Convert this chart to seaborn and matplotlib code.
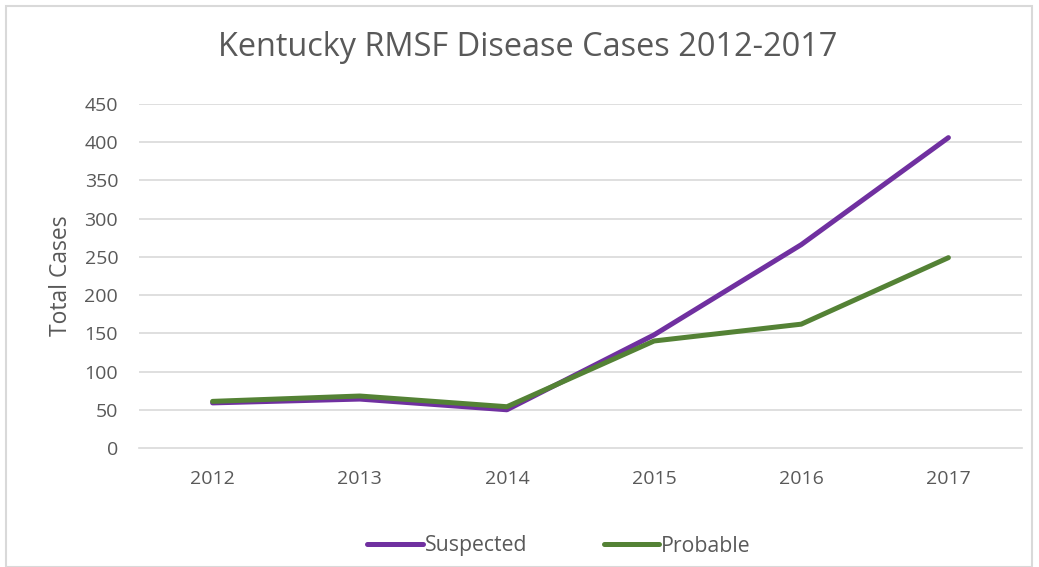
import matplotlib
matplotlib.use("Agg")
import matplotlib.pyplot as plt
import seaborn as sns
import pandas as pd
from matplotlib.lines import Line2D

years = ["2012", "2013", "2014", "2015", "2016", "2017"]
suspected = [59, 64, 50, 148, 266, 406]
probable = [61, 68, 54, 140, 162, 249]
series_names = ["Suspected", "Probable"]
colors = {"Suspected": "#7030A0", "Probable": "#548235"}

df = pd.DataFrame({
    "pos": list(range(len(years))) * 2,
    "value": suspected + probable,
    "series": [series_names[0]] * len(years) + [series_names[1]] * len(years),
})

sns.set_theme(style="white")
plt.rcParams['font.family'] = ['Open Sans', 'DejaVu Sans']
txt = "#595959"
grid = "#D9D9D9"

fig = plt.figure(figsize=(10.39, 5.67), dpi=100)
ax = fig.add_axes([139/1039, 1 - 448/567, (1022-139)/1039, (448-104)/567])

sns.lineplot(data=df, x="pos", y="value", hue="series", palette=colors,
             linewidth=3.6, ax=ax, legend=False, solid_capstyle="round")

ax.set_xlim(-0.5, len(years) - 0.5)
ax.set_ylim(0, 450)
ax.set_yticks(range(0, 451, 50))
ax.set_xticks(range(len(years)))
ax.set_xticklabels(years)
ax.tick_params(axis="both", colors=txt, labelsize=14, length=0)
ax.tick_params(axis="y", pad=15)
ax.tick_params(axis="x", pad=16)
for y in range(50, 451, 50):
    ax.axhline(y, color=grid, linewidth=1.2, zorder=0)
for s in ["top", "right", "left"]:
    ax.spines[s].set_visible(False)
ax.spines["bottom"].set_color(grid)
ax.spines["bottom"].set_linewidth(1.2)
ax.set_xlabel("")
ax.set_ylabel("Total Cases", color=txt, fontsize=16.5, labelpad=8)

fig.text(0.508, 1 - 48/567, "Kentucky RMSF Disease Cases 2012-2017", ha="center",
         va="center", fontsize=23.4, color=txt)

handles = [Line2D([0], [0], color=colors[n], linewidth=3.6, solid_capstyle="round") for n in series_names]
leg = fig.legend(handles, series_names, loc="center", bbox_to_anchor=(0.538, 1 - 546/567),
                 ncol=2, frameon=False, fontsize=15.3, handlelength=2.6, handletextpad=0.1,
                 columnspacing=3.6)
for t in leg.get_texts():
    t.set_color(txt)

border = plt.Rectangle((6/1039, 0), (1032-6)/1039, 1 - 6/567, transform=fig.transFigure,
                       fill=False, edgecolor=grid, linewidth=1.5)
fig.patches.append(border)

fig.savefig("out.png", dpi=100)
